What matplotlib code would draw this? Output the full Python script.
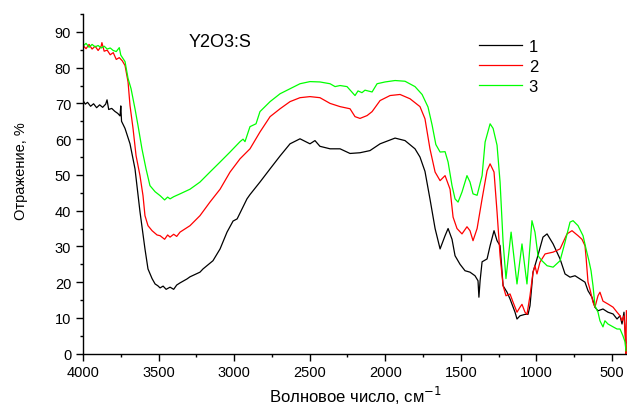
import numpy as np
import matplotlib
matplotlib.use('Agg')
from matplotlib import pyplot as plt
from matplotlib.ticker import MultipleLocator

# wavenumber (cm-1) / reflectance (%)
w1 = [4000, 3985, 3970, 3950, 3930, 3910, 3890, 3870, 3850, 3841, 3830, 3810, 3790, 3770, 3755,
      3750, 3745, 3722, 3689, 3656, 3623, 3590, 3570, 3543, 3523, 3505, 3490, 3470, 3450, 3424,
      3400, 3380, 3358, 3312, 3292, 3226, 3206, 3140, 3093, 3047, 3007, 2980, 2915, 2895, 2829,
      2762, 2696, 2630, 2564, 2498, 2465, 2432, 2365, 2299, 2233, 2167, 2101, 2034, 1935, 1869,
      1803, 1770, 1737, 1704, 1670, 1637, 1604, 1584, 1558, 1538, 1505, 1472, 1439, 1406, 1386,
      1380, 1372, 1359, 1326, 1306, 1280, 1260, 1240, 1220, 1194, 1174, 1141, 1128, 1108, 1075,
      1055, 1042, 1022, 996, 956, 929, 889, 843, 810, 777, 744, 711, 678, 658, 632,
      612, 592, 559, 526, 492, 466, 446, 433, 420, 413, 407]
r1 = [70.8, 69.8, 70.3, 69.2, 69.9, 68.8, 69.6, 68.9, 69.8, 71.0, 68.3, 68.6, 67.8, 67.2, 66.5,
      69.3, 65.0, 63.0, 58.7, 51.7, 39.7, 29.3, 23.7, 21.0, 19.5, 19.0, 18.4, 18.9, 18.0, 18.6,
      18.0, 19.2, 19.8, 20.9, 21.5, 22.8, 23.7, 26.0, 29.3, 34.0, 37.1, 37.7, 43.3, 44.5, 48.0,
      51.7, 55.3, 58.7, 60.1, 58.7, 59.6, 58.0, 57.3, 57.3, 56.0, 56.2, 56.8, 58.7, 60.3, 59.6,
      57.3, 55.0, 51.0, 43.3, 35.0, 29.3, 33.0, 35.0, 32.0, 27.4, 25.0, 23.2, 22.8, 21.8, 20.4,
      15.8, 20.5, 25.7, 26.5, 30.2, 34.4, 31.6, 30.2, 19.0, 17.2, 15.3, 11.6, 9.7, 10.6, 11.0,
      11.0, 13.4, 22.8, 26.5, 32.6, 33.5, 30.7, 26.5, 22.3, 21.4, 21.8, 20.9, 20.0, 17.6, 15.8,
      13.0, 12.0, 12.5, 11.6, 11.1, 9.7, 10.6, 8.3, 11.6, 7.0, 3.0]

w2 = [4000, 3980, 3960, 3940, 3920, 3900, 3880, 3875, 3860, 3840, 3820, 3800, 3780, 3760, 3740,
      3722, 3702, 3689, 3669, 3649, 3623, 3603, 3590, 3570, 3543, 3510, 3490, 3460, 3440, 3424,
      3400, 3380, 3358, 3292, 3226, 3160, 3093, 3027, 2961, 2895, 2829, 2762, 2696, 2630, 2564,
      2498, 2432, 2365, 2299, 2233, 2200, 2167, 2120, 2087, 2034, 1968, 1902, 1836, 1770, 1737,
      1704, 1670, 1637, 1604, 1571, 1551, 1525, 1492, 1459, 1439, 1419, 1392, 1359, 1326, 1306,
      1280, 1260, 1240, 1220, 1201, 1174, 1154, 1128, 1108, 1095, 1075, 1062, 1042, 1022, 1009,
      996, 976, 942, 889, 843, 797, 764, 724, 698, 678, 671, 658, 645, 625, 612,
      592, 579, 559, 526, 492, 466, 446, 433, 420, 413, 407, 404]
r2 = [86.2, 85.3, 86.5, 85.2, 86.0, 84.8, 86.0, 87.0, 84.6, 84.9, 83.6, 84.2, 82.3, 82.8, 81.9,
      80.6, 76.0, 69.4, 63.0, 55.4, 49.8, 44.2, 38.6, 35.8, 34.4, 33.2, 33.0, 32.0, 33.2, 32.6,
      33.4, 32.8, 34.0, 35.8, 38.6, 42.4, 46.0, 50.8, 54.5, 57.3, 62.0, 66.3, 68.5, 70.5, 71.6,
      71.9, 71.6, 70.0, 69.1, 68.5, 66.3, 65.8, 66.6, 67.7, 70.8, 72.2, 72.5, 71.3, 69.1, 65.7,
      57.3, 50.8, 48.4, 49.8, 46.0, 38.2, 35.0, 33.5, 35.5, 34.4, 31.6, 35.0, 43.3, 51.2, 53.1,
      50.8, 39.6, 27.4, 19.0, 16.2, 16.7, 14.4, 11.6, 13.0, 13.8, 11.6, 11.0, 16.2, 22.8, 24.6,
      22.3, 25.6, 27.9, 28.4, 29.3, 33.5, 34.4, 33.0, 32.0, 30.2, 27.0, 20.0, 18.0, 14.4, 13.0,
      16.2, 17.2, 14.7, 13.9, 13.0, 11.6, 10.6, 9.2, 10.6, 6.0, 0.0, 12.0]

w3 = [4000, 3980, 3960, 3940, 3920, 3900, 3880, 3860, 3840, 3820, 3800, 3780, 3760, 3750, 3722,
      3702, 3682, 3656, 3636, 3610, 3583, 3557, 3523, 3490, 3460, 3440, 3424, 3400, 3358, 3292,
      3226, 3160, 3093, 3027, 2961, 2941, 2928, 2895, 2855, 2829, 2762, 2696, 2630, 2564, 2498,
      2432, 2365, 2332, 2299, 2253, 2200, 2180, 2154, 2134, 2087, 2054, 2001, 1935, 1869, 1803,
      1756, 1717, 1690, 1665, 1637, 1604, 1584, 1558, 1538, 1518, 1492, 1459, 1439, 1419, 1392,
      1359, 1339, 1306, 1286, 1260, 1240, 1220, 1201, 1167, 1128, 1095, 1062, 1029, 1009, 989,
      963, 929, 889, 843, 810, 777, 757, 724, 691, 671, 652, 638, 625, 612, 592,
      579, 559, 546, 526, 492, 466, 446, 427, 413, 407]
r3 = [86.0, 86.8, 85.7, 86.5, 85.8, 86.2, 85.5, 86.0, 85.2, 85.5, 84.8, 84.5, 85.6, 83.5, 81.7,
      77.0, 74.1, 68.5, 63.8, 57.3, 51.7, 47.0, 45.3, 44.2, 43.0, 43.8, 43.3, 43.9, 44.7, 46.0,
      48.0, 50.8, 53.6, 56.4, 59.3, 60.0, 59.3, 63.5, 64.3, 67.7, 70.5, 72.7, 74.1, 75.5, 76.1,
      76.0, 75.5, 74.7, 75.0, 74.7, 72.2, 73.5, 73.0, 73.7, 73.2, 75.5, 76.0, 76.4, 76.2, 74.7,
      72.5, 69.0, 64.0, 58.5, 56.4, 56.5, 53.6, 47.0, 43.3, 42.4, 45.2, 49.8, 48.0, 44.7, 44.3,
      49.8, 59.2, 64.3, 63.0, 58.3, 48.0, 31.2, 21.0, 34.0, 19.5, 30.7, 19.5, 37.2, 34.0, 27.4,
      26.0, 24.6, 24.2, 26.0, 31.2, 36.8, 37.2, 35.8, 33.0, 29.3, 26.0, 23.2, 19.0, 13.4, 11.6,
      9.2, 7.5, 9.2, 8.3, 7.5, 6.9, 6.9, 5.0, 3.3, 0.8]

labels = ['1', '2', '3']
colors = ['black', '#ff0000', '#00ff00']


def main():
    plt.rcParams['font.family'] = ['Liberation Sans', 'DejaVu Sans']

    fig = plt.figure(figsize=(6.27, 4.06), dpi=100)
    ax = fig.add_axes([0.1324, 0.1264, 0.8676, 0.8366])

    for w, r, lab, c in zip([w1, w2, w3], [r1, r2, r3], labels, colors):
        ax.plot(w, r, color=c, lw=0.9, label=lab)

    ax.set_xlim(4000, 400)
    ax.set_ylim(0, 95)

    ax.xaxis.set_major_locator(MultipleLocator(500))
    ax.xaxis.set_minor_locator(MultipleLocator(250))
    ax.yaxis.set_minor_locator(MultipleLocator(5))
    ax.set_yticks(range(0, 91, 10))

    for side in ['top', 'right']:
        ax.spines[side].set_visible(False)
    for side in ['left', 'bottom']:
        ax.spines[side].set_linewidth(1.0)

    ax.tick_params(which='major', direction='out', length=5, width=1.0, labelsize=10.5)
    ax.tick_params(which='minor', direction='out', length=2.5, width=1.0)

    ax.set_xlabel('Волновое число, см$^{-1}$', fontsize=12, labelpad=3)
    ax.set_ylabel('Отражение, %', fontsize=10.5)
    ax.yaxis.set_label_coords(-0.101, 0.54)

    ax.text(3093, 87.4, 'Y2O3:S', ha='center', va='center', fontsize=13)

    ax.legend(loc='upper left', bbox_to_anchor=(0.728, 0.927), frameon=False,
              fontsize=12, handlelength=2.58, handletextpad=0.4, labelspacing=0.31,
              borderpad=0, borderaxespad=0)

    plt.savefig('out.png', dpi=100)


# run script
if __name__ == "__main__":
    main()
